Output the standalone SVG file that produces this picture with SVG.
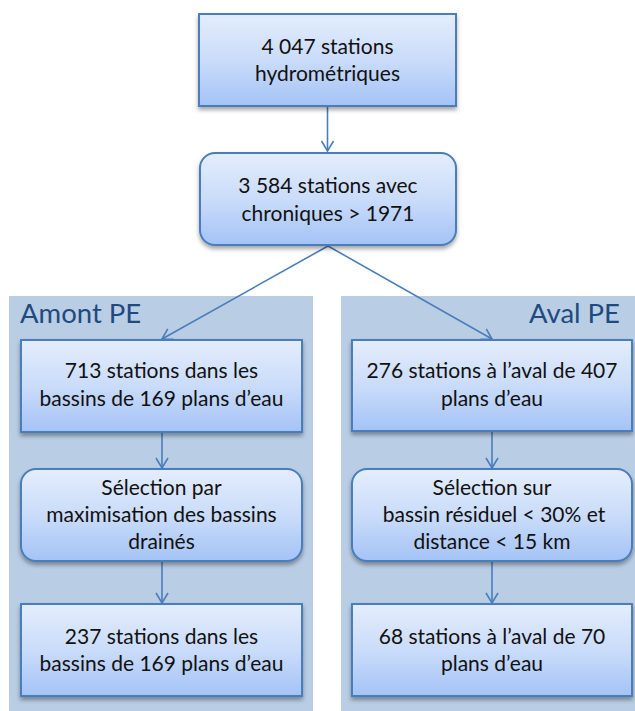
<svg xmlns="http://www.w3.org/2000/svg" width="635" height="711" viewBox="0 0 635 711">
<defs>
<linearGradient id="g" x1="0" y1="0" x2="0" y2="1">
<stop offset="0" stop-color="#E4EDFC"/>
<stop offset="0.5" stop-color="#CADCFA"/>
<stop offset="1" stop-color="#A4C3F6"/>
</linearGradient>
<filter id="sh" x="-10%" y="-10%" width="120%" height="130%">
<feDropShadow dx="0" dy="3" stdDeviation="2" flood-color="#000" flood-opacity="0.35"/>
</filter>
<marker id="ah" markerWidth="14" markerHeight="14" refX="12" refY="7" orient="auto" markerUnits="userSpaceOnUse">
<path d="M2,1 L12,7 L2,13" fill="none" stroke="#4A7EBB" stroke-width="1.6"/>
</marker>
<style>
.box{fill:url(#g);stroke:#4A7EBB;stroke-width:2;filter:url(#sh)}
.panel{fill:#B9CDE4}
.t{font-family:Lato,"Liberation Sans",sans-serif;font-size:21px;fill:#111;text-anchor:middle}
.h{font-family:Lato,"Liberation Sans",sans-serif;font-size:27.5px;fill:#1F4A7E}
.c{stroke:#4A7EBB;stroke-width:1.6;fill:none;marker-end:url(#ah)}
</style>
</defs>
<rect class="panel" x="9" y="296" width="304" height="415"/>
<rect class="panel" x="341" y="296" width="294" height="415"/>
<text class="h" x="20" y="323">Amont PE</text>
<text class="h" x="620" y="323" text-anchor="end">Aval PE</text>
<g id="connectors">
<line class="c" x1="327.5" y1="107" x2="327.5" y2="151"/>
<line class="c" x1="328" y1="246" x2="162" y2="339"/>
<line class="c" x1="328" y1="246" x2="492" y2="339"/>
<line class="c" x1="162" y1="433" x2="162" y2="468"/>
<line class="c" x1="162" y1="562" x2="162" y2="603"/>
<line class="c" x1="492" y1="432" x2="492" y2="468"/>
<line class="c" x1="492" y1="562" x2="492" y2="603"/>
</g>
<g id="n1"><rect class="box" x="199" y="14" width="257" height="92"/>
<text class="t" x="327.5" y="54">4 047 stations</text><text class="t" x="327.5" y="81">hydrométriques</text></g>
<g id="n2"><rect class="box" x="200" y="153" width="256" height="92" rx="15"/>
<text class="t" x="328" y="193">3 584 stations avec</text><text class="t" x="328" y="221">chroniques &gt; 1971</text></g>
<g id="a1"><rect class="box" x="21" y="340" width="281" height="92"/>
<text class="t" x="161.5" y="378">713 stations dans les</text><text class="t" x="161.5" y="406">bassins de 169 plans d’eau</text></g>
<g id="a2"><rect class="box" x="21" y="469" width="281" height="92" rx="15"/>
<text class="t" x="161.5" y="495">Sélection par</text><text class="t" x="161.5" y="522">maximisation des bassins</text><text class="t" x="161.5" y="549">drainés</text></g>
<g id="a3"><rect class="box" x="21" y="604" width="281" height="92"/>
<text class="t" x="161.5" y="644">237 stations dans les</text><text class="t" x="161.5" y="671">bassins de 169 plans d’eau</text></g>
<g id="b1"><rect class="box" x="352" y="340" width="280" height="91"/>
<text class="t" x="492" y="378">276 stations à l’aval de 407</text><text class="t" x="492" y="406">plans d’eau</text></g>
<g id="b2"><rect class="box" x="352" y="469" width="280" height="92" rx="15"/>
<text class="t" x="492" y="495">Sélection sur</text><text class="t" x="494" y="522">bassin résiduel &lt; 30% et</text><text class="t" x="492" y="549">distance &lt; 15 km</text></g>
<g id="b3"><rect class="box" x="352" y="604" width="280" height="92"/>
<text class="t" x="492" y="644">68 stations à l’aval de 70</text><text class="t" x="492" y="671">plans d’eau</text></g>
</svg>
